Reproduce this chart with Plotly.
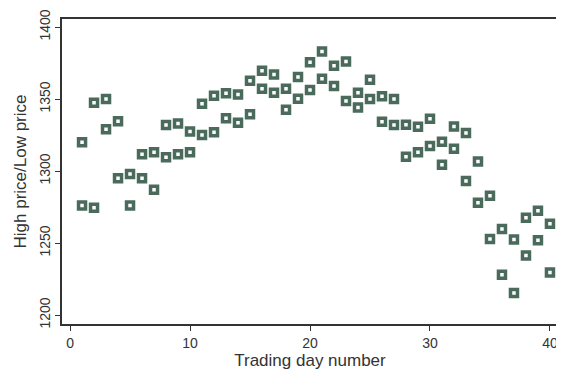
import plotly.graph_objects as go

# dia de negociacion y precios maximo / minimo
dias = list(range(1, 41))
precio_alto = [1320, 1347.4, 1350, 1334.5, 1298, 1311.6, 1313, 1332, 1333, 1327.5,
               1346.7, 1352.3, 1354, 1353.2, 1362.7, 1369.7, 1367, 1357.2, 1365.3, 1375.6,
               1383, 1373.2, 1376, 1354.4, 1363.4, 1351.9, 1350, 1332.2, 1330.8, 1336.3,
               1320.4, 1331, 1326.4, 1306.7, 1282.9, 1259.7, 1252.5, 1267.6, 1272.4, 1263.4]
precio_bajo = [1276, 1274.5, 1329, 1295, 1276, 1295, 1287, 1309.5, 1311.6, 1313,
               1325, 1326.9, 1336.6, 1333.5, 1339.4, 1357.2, 1354.4, 1342.6, 1350.2, 1356.2,
               1364.1, 1359, 1348.6, 1344.2, 1350, 1334.3, 1332, 1310, 1313, 1317.4,
               1304.4, 1315.5, 1293, 1278, 1252.8, 1228, 1215.3, 1241.4, 1252, 1229.6]

color = '#4a6b5c'
fuente = dict(family='Liberation Sans, Arial, sans-serif', size=14, color='#333333')

fig = go.Figure()
for serie in [precio_alto, precio_bajo]:
    fig.add_trace(go.Scatter(
        x=dias, y=serie, mode='markers',
        marker=dict(symbol='square-open', size=7, color=color,
                    line=dict(width=3.5, color=color)),
        showlegend=False
    ))

# la pagina tiene 8px de margen en el body, se descuentan aqui
fig.update_layout(
    width=556, height=362,
    margin=dict(l=54, r=6, t=11, b=46),
    paper_bgcolor='white', plot_bgcolor='white',
    font=fuente
)

fig.update_xaxes(
    range=[-0.67, 40.67],
    tickvals=[0, 10, 20, 30, 40],
    ticks='outside', ticklen=5, tickcolor='#333333',
    showline=True, linecolor='#333333', linewidth=1.5, mirror=True,
    showgrid=False, zeroline=False, automargin=False,
    title=dict(text='Trading day number', standoff=10)
)

fig.update_yaxes(
    range=[1193.75, 1405.6],
    tickvals=[1200, 1250, 1300, 1350, 1400],
    tickangle=-90,
    ticks='outside', ticklen=5, tickcolor='#333333',
    showline=True, linecolor='#333333', linewidth=1.5, mirror=True,
    showgrid=False, zeroline=False, automargin=False,
    title=dict(text='High price/Low price', standoff=6)
)

fig.write_html('out.html')
